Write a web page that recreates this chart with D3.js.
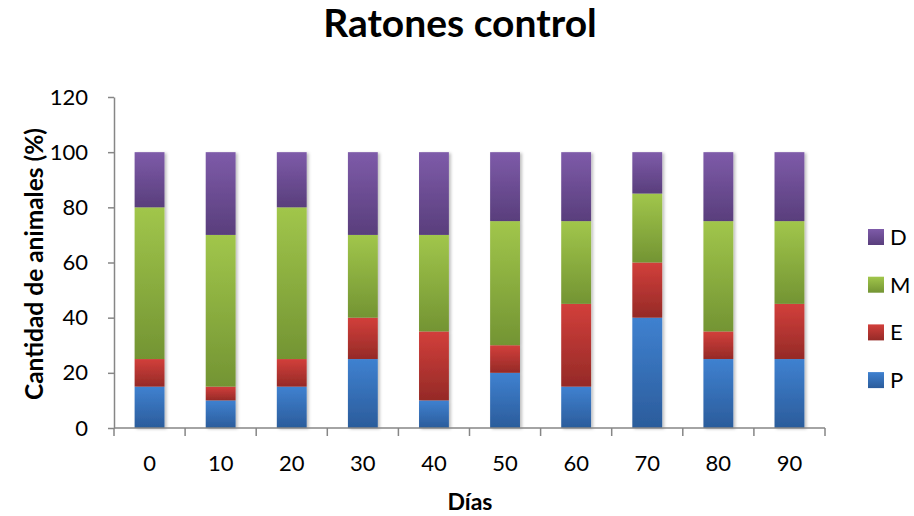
<!DOCTYPE html>
<html>
<head>
<meta charset="utf-8">
<script src="https://cdn.jsdelivr.net/npm/d3@7"></script>
<style>
  html, body { margin: 0; padding: 0; background: #fff; }
  svg { display: block; font-family: Lato, "Open Sans", sans-serif; }
</style>
</head>
<body>
<svg id="chart" width="914" height="516"></svg>
<script>
// Days of observation
const days = ["0", "10", "20", "30", "40", "50", "60", "70", "80", "90"];
// Percentage of animals per stage, stacked bottom to top
const seriesP = [15, 10, 15, 25, 10, 20, 15, 40, 25, 25];
const seriesE = [10, 5, 10, 15, 25, 10, 30, 20, 10, 20];
const seriesM = [55, 55, 55, 30, 35, 45, 30, 25, 40, 30];
const seriesD = [20, 30, 20, 30, 30, 25, 25, 15, 25, 25];
const seriesNames = ["P", "E", "M", "D"];
const yTicks = [0, 20, 40, 60, 80, 100, 120];

const colors = {
  P: ["#3f81d0", "#2b5c9b"],
  E: ["#d23f3b", "#952a27"],
  M: ["#a1c64b", "#739433"],
  D: ["#7e5ba9", "#593e7c"]
};

const rows = days.map((d, i) => ({
  day: d, P: seriesP[i], E: seriesE[i], M: seriesM[i], D: seriesD[i]
}));

const svg = d3.select("#chart");
const defs = svg.append("defs");

seriesNames.forEach(k => {
  const g = defs.append("linearGradient")
    .attr("id", "grad-" + k)
    .attr("x1", 0).attr("y1", 0).attr("x2", 0).attr("y2", 1);
  g.append("stop").attr("offset", "0%").attr("stop-color", colors[k][0]);
  g.append("stop").attr("offset", "100%").attr("stop-color", colors[k][1]);
});

const shadow = defs.append("filter").attr("id", "shadow")
  .attr("x", "-20%").attr("y", "-5%").attr("width", "150%").attr("height", "110%");
shadow.append("feDropShadow")
  .attr("dx", 2).attr("dy", 1).attr("stdDeviation", 1.5)
  .attr("flood-color", "#000").attr("flood-opacity", 0.25);

const plotLeft = 114, plotRight = 825, plotTop = 97, plotBottom = 428;

const x = d3.scaleBand().domain(days).range([plotLeft, plotRight])
  .paddingInner(0.58).paddingOuter(0.29);
const y = d3.scaleLinear().domain([0, 120]).range([plotBottom, plotTop]);

const stacked = d3.stack().keys(seriesNames)(rows);

// Bars
const layer = svg.append("g").attr("filter", "url(#shadow)");
stacked.forEach(s => {
  layer.append("g")
    .selectAll("rect")
    .data(s)
    .join("rect")
    .attr("x", d => x(d.data.day))
    .attr("width", x.bandwidth())
    .attr("y", d => y(d[1]))
    .attr("height", d => y(d[0]) - y(d[1]))
    .attr("fill", "url(#grad-" + s.key + ")");
});

const axisColor = "#868686";

// Y axis
const yAxis = svg.append("g")
  .attr("transform", `translate(${plotLeft},0)`)
  .call(d3.axisLeft(y).tickValues(yTicks).tickSize(6).tickPadding(20).tickSizeOuter(0));
yAxis.select(".domain").attr("stroke", axisColor).attr("stroke-width", 1.5);
yAxis.selectAll(".tick line").attr("stroke", axisColor).attr("stroke-width", 1.5);
yAxis.selectAll("text").attr("font-size", 22).attr("fill", "#000")
  .attr("font-family", "Lato, 'Open Sans', sans-serif");

// X axis with ticks at category boundaries
const xAxisG = svg.append("g").attr("transform", `translate(0,${plotBottom})`);
xAxisG.append("line")
  .attr("x1", plotLeft).attr("x2", plotRight).attr("y1", 0).attr("y2", 0)
  .attr("stroke", axisColor).attr("stroke-width", 1.5);
const step = x.step();
const boundaries = d3.range(days.length + 1).map(i => plotLeft + i * step);
xAxisG.selectAll("line.tk").data(boundaries).join("line")
  .attr("class", "tk")
  .attr("x1", d => d).attr("x2", d => d).attr("y1", 0).attr("y2", 8)
  .attr("stroke", axisColor).attr("stroke-width", 1.5);
xAxisG.selectAll("text").data(days).join("text")
  .attr("x", d => x(d) + x.bandwidth() / 2)
  .attr("y", 43)
  .attr("text-anchor", "middle")
  .attr("font-size", 22)
  .attr("fill", "#000")
  .text(d => d);

// Title
svg.append("text")
  .attr("x", 460).attr("y", 37)
  .attr("text-anchor", "middle")
  .attr("font-size", 39).attr("font-weight", "bold")
  .attr("fill", "#000")
  .text("Ratones control");

// Axis titles
svg.append("text")
  .attr("x", 470).attr("y", 510)
  .attr("text-anchor", "middle")
  .attr("font-size", 23).attr("font-weight", "bold")
  .text("Días");

svg.append("text")
  .attr("transform", "translate(43,264) rotate(-90)")
  .attr("text-anchor", "middle")
  .attr("font-size", 24.5).attr("font-weight", "bold")
  .text("Cantidad de animales (%)");

// Legend (top to bottom: D, M, E, P)
const legendKeys = seriesNames.slice().reverse();
const legend = svg.append("g").attr("transform", "translate(868,229)");
legendKeys.forEach((k, i) => {
  const g = legend.append("g").attr("transform", `translate(0,${i * 47.7})`);
  g.append("rect").attr("width", 16).attr("height", 16)
    .attr("fill", "url(#grad-" + k + ")");
  g.append("text").attr("x", 22).attr("y", 16)
    .attr("font-size", 22).attr("fill", "#000")
    .text(k);
});
</script>
</body>
</html>
